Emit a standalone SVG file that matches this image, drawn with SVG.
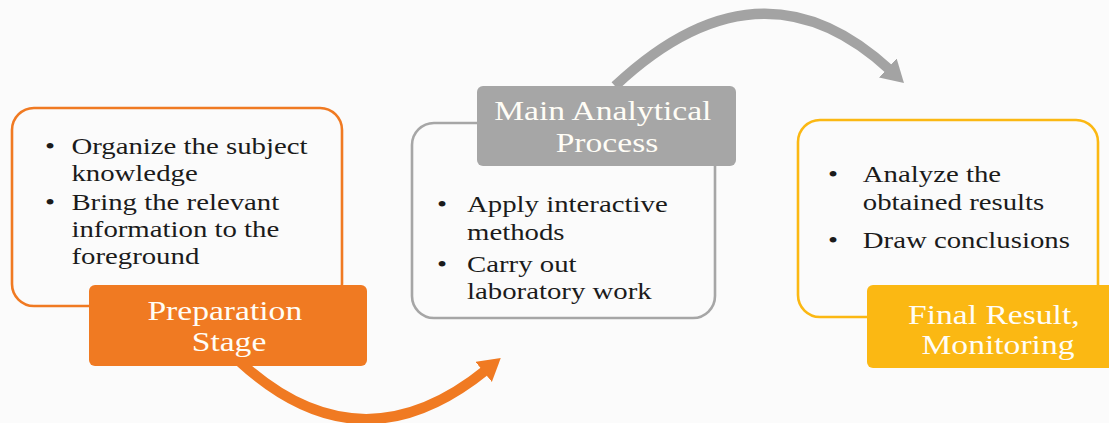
<svg xmlns="http://www.w3.org/2000/svg" width="1109" height="423" viewBox="0 0 1109 423">
  <style>
    .frame { fill: none; stroke-width: 2.6; }
    .body { font-family: "Liberation Serif", "Times New Roman", serif; font-size: 24px; fill: #1b1b1b; }
    .title { font-family: "Liberation Serif", "Times New Roman", serif; font-size: 28px; fill: #fffdf6; text-anchor: middle; }
    .flow { fill: none; stroke-width: 10; }
  </style>
  <defs>
    <marker id="headOrange" markerUnits="userSpaceOnUse" markerWidth="26" markerHeight="28" refX="3" refY="13" orient="auto">
      <path d="M0,0 L22,13 L0,26 Z" fill="#F07A22"/>
    </marker>
    <marker id="headGray" markerUnits="userSpaceOnUse" markerWidth="26" markerHeight="28" refX="3" refY="13" orient="auto">
      <path d="M0,0 L22,13 L0,26 Z" fill="#A3A3A3"/>
    </marker>
  </defs>

  <rect width="1109" height="423" fill="#FBFBFB"/>

  <!-- connectors between the stages -->
  <g id="connectors">
    <path class="flow" d="M240,362 Q360,472 486,370" stroke="#F07A22" marker-end="url(#headOrange)"/>
    <path class="flow" d="M615,86 Q760,-50 890,70" stroke="#A3A3A3" marker-end="url(#headGray)"/>
  </g>

  <!-- stage 1 -->
  <g id="preparation">
    <rect class="frame" x="12" y="108" width="330" height="198" rx="22" stroke="#F07A22"/>
    <text class="body" transform="translate(45 0) scale(1.2 1)">
      <tspan x="0" y="154">•</tspan><tspan x="22" y="154">Organize the subject</tspan>
      <tspan x="22" y="181">knowledge</tspan>
      <tspan x="0" y="210">•</tspan><tspan x="22" y="210">Bring the relevant</tspan>
      <tspan x="22" y="237">information to the</tspan>
      <tspan x="22" y="264">foreground</tspan>
    </text>
    <rect x="89" y="285" width="278" height="81" rx="6" fill="#F07A22"/>
    <text class="title" transform="translate(229 0) scale(1.2 1)">
      <tspan x="0" y="320">Preparation</tspan>
      <tspan x="0" y="351">Stage</tspan>
    </text>
  </g>

  <!-- stage 2 -->
  <g id="analysis">
    <rect class="frame" x="412" y="123" width="303" height="195" rx="22" stroke="#A6A6A6"/>
    <rect x="477" y="86" width="259" height="80" rx="6" fill="#A6A6A6"/>
    <text class="title" transform="translate(607 0) scale(1.2 1)">
      <tspan x="0" y="120">Main Analytical</tspan>
      <tspan x="0" y="152">Process</tspan>
    </text>
    <text class="body" transform="translate(437 0) scale(1.2 1)">
      <tspan x="0" y="212">•</tspan><tspan x="25" y="212">Apply interactive</tspan>
      <tspan x="25" y="240">methods</tspan>
      <tspan x="0" y="272">•</tspan><tspan x="25" y="272">Carry out</tspan>
      <tspan x="25" y="299">laboratory work</tspan>
    </text>
  </g>

  <!-- stage 3 -->
  <g id="result">
    <rect class="frame" x="798" y="120" width="300" height="197" rx="22" stroke="#FBB813"/>
    <text class="body" transform="translate(828 0) scale(1.2 1)">
      <tspan x="0" y="182">•</tspan><tspan x="29" y="182">Analyze the</tspan>
      <tspan x="29" y="210">obtained results</tspan>
      <tspan x="0" y="248">•</tspan><tspan x="29" y="248">Draw conclusions</tspan>
    </text>
    <rect x="867" y="285" width="264" height="83" rx="6" fill="#FBB813"/>
    <text class="title" transform="translate(998 0) scale(1.2 1)">
      <tspan x="0" y="324">Final Result,</tspan>
      <tspan x="0" y="354">Monitoring</tspan>
    </text>
  </g>
</svg>
